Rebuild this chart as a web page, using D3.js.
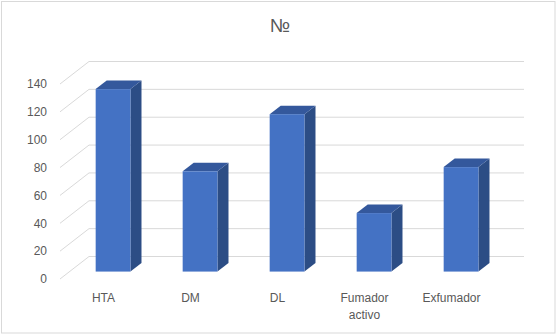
<!DOCTYPE html>
<html>
<head>
<meta charset="utf-8">
<script src="https://cdn.jsdelivr.net/npm/d3@7"></script>
<style>
  body { margin: 0; background: #fff; }
  text { font-family: "Liberation Sans", "Noto Sans", sans-serif; fill: #595959; }
</style>
</head>
<body>
<svg width="560" height="336"></svg>
<script>
// data
const categories = ["HTA", "DM", "DL", "Fumador activo", "Exfumador"];
const values = [131, 72, 113, 42, 75];
const yTicks = [0, 20, 40, 60, 80, 100, 120, 140];
const title = "№";

const svg = d3.select("svg");

// depth of the 3d box (offset from front to back wall)
const DX = 29, DY = 22.5;
const Y0 = 279;          // front floor edge
const frontLeft = 60, frontRight = 495;

const x = d3.scaleBand().domain(categories).range([frontLeft, frontRight]);
const y = d3.scaleLinear().domain([0, 140]).range([Y0, Y0 - 195]);

// project a point at depth t (0 = front, 1 = back wall)
const px = (xv, t) => xv + t * DX;
const py = (v, t) => y(v) - t * DY;

// chart border
svg.append("rect")
  .attr("x", 1.5).attr("y", 1.5)
  .attr("width", 553.5).attr("height", 331.5)
  .attr("fill", "#fff")
  .attr("stroke", "#d9d9d9");

// gridlines: left side wall diagonals + back wall lines
const grid = svg.append("g").attr("stroke", "#d9d9d9").attr("stroke-width", 1).attr("fill", "none");
yTicks.forEach(v => {
  grid.append("path")
    .attr("d", d3.line()([
      [frontLeft, py(v, 0)],
      [px(frontLeft, 1), py(v, 1)],
      [px(frontRight, 1), py(v, 1)]
    ]));
});

// y axis labels
const yAxis = d3.axisLeft(y).tickValues(yTicks).tickSize(0).tickPadding(13);
svg.append("g")
  .attr("transform", "translate(" + frontLeft + ",0)")
  .call(yAxis)
  .call(g => g.select(".domain").remove())
  .call(g => g.selectAll("text").attr("font-size", 12).attr("fill", "#595959")
    .attr("font-family", "Liberation Sans, Noto Sans, sans-serif"));

// bars
const t0 = 0.33, t1 = 0.71;
const barW = x.bandwidth() * 0.4;
const bars = svg.append("g");

categories.forEach((c, i) => {
  const v = values[i];
  const xl = x(c) + (x.bandwidth() - barW) / 2;
  const xr = xl + barW;

  // side face
  bars.append("path")
    .attr("d", d3.line()([
      [px(xr, t0), py(0, t0)], [px(xr, t1), py(0, t1)],
      [px(xr, t1), py(v, t1)], [px(xr, t0), py(v, t0)]
    ]) + "Z")
    .attr("fill", "#2c4d85");

  // top face
  bars.append("path")
    .attr("d", d3.line()([
      [px(xl, t0), py(v, t0)], [px(xr, t0), py(v, t0)],
      [px(xr, t1), py(v, t1)], [px(xl, t1), py(v, t1)]
    ]) + "Z")
    .attr("fill", "#34589c");

  // front face
  bars.append("rect")
    .attr("x", px(xl, t0))
    .attr("y", py(v, t0))
    .attr("width", barW)
    .attr("height", py(0, t0) - py(v, t0))
    .attr("fill", "#4472c4");
});

// category labels
const labels = svg.append("g");
categories.forEach(c => {
  const words = c.split(" ");
  const txt = labels.append("text")
    .attr("x", x(c) + x.bandwidth() / 2)
    .attr("y", 302)
    .attr("text-anchor", "middle")
    .attr("font-size", 12);
  words.forEach((w, j) => {
    txt.append("tspan")
      .attr("x", x(c) + x.bandwidth() / 2)
      .attr("dy", j === 0 ? 0 : 17)
      .text(w);
  });
});

// title
svg.append("text")
  .attr("x", 280)
  .attr("y", 32)
  .attr("text-anchor", "middle")
  .attr("font-size", 19)
  .text(title);
</script>
</body>
</html>
